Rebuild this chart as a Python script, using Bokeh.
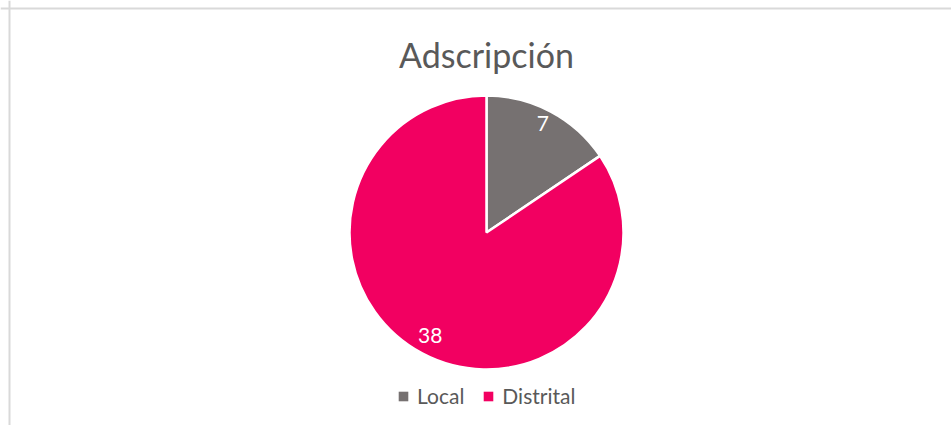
import numpy as np
from bokeh.plotting import figure
from bokeh.models import Range1d, ColumnDataSource, Legend, LegendItem, Label, Span
from bokeh.core.properties import value
from bokeh.embed import file_html
from bokeh.resources import INLINE

categories = ["Local", "Distrital"]
values = [7, 38]
colors = ["#767171", "#F20061"]
title_text = "Adscripción"

W, H = 951, 425
p = figure(width=W, height=H, output_backend="svg", toolbar_location=None,
           x_range=Range1d(0, W), y_range=Range1d(0, H), min_border=0,
           match_aspect=False)
p.axis.visible = False
p.grid.visible = False
p.outline_line_color = None
p.background_fill_color = "white"
p.border_fill_color = "white"

cx, cy, r = 486, 193, 137
vals = np.array(values, dtype=float)
frac = vals / vals.sum()
cum = np.concatenate([[0], np.cumsum(frac)])
start = np.pi / 2 - cum[:-1] * 2 * np.pi
end = np.pi / 2 - cum[1:] * 2 * np.pi
mid = (start + end) / 2
lr = 0.875 * r

src = ColumnDataSource(dict(cat=categories, val=values, color=colors,
                            start=start, end=end,
                            lx=cx + lr * np.cos(mid), ly=cy + lr * np.sin(mid),
                            lab=[str(v) for v in values]))

p.wedge(x=cx, y=cy, radius=r, start_angle="start", end_angle="end",
        direction="clock", fill_color="color", line_color="white",
        line_width=2.5, source=src)

p.text(x="lx", y="ly", text="lab", source=src, text_color="white",
       text_font=value("Lato"), text_font_size="21px",
       text_align="center", text_baseline="middle", y_offset=-3)

# legend proxies
items = []
for c, col in zip(categories, colors):
    rr = p.quad(left=[np.nan], right=[np.nan], top=[np.nan], bottom=[np.nan],
                fill_color=col, line_color=None)
    items.append(LegendItem(label=c, renderers=[rr]))

legend = Legend(items=items, orientation="horizontal", location=(397, 17),
                label_text_font="Lato", label_text_font_size="21px",
                label_text_color="#595959", glyph_width=12, glyph_height=12,
                label_standoff=8, spacing=18, padding=0, margin=0,
                border_line_color=None, background_fill_alpha=0)
p.add_layout(legend, "center")

p.add_layout(Label(x=cx, y=H - 54, text=title_text, text_align="center",
                   text_baseline="middle", text_font="Lato",
                   text_font_size="34px", text_color="#595959"))

p.add_layout(Span(location=9, dimension="height", line_color="#d9d9d9", line_width=2))
p.add_layout(Span(location=H - 8, dimension="width", line_color="#d9d9d9", line_width=2))

open("out.html", "w").write(file_html(p, INLINE))
